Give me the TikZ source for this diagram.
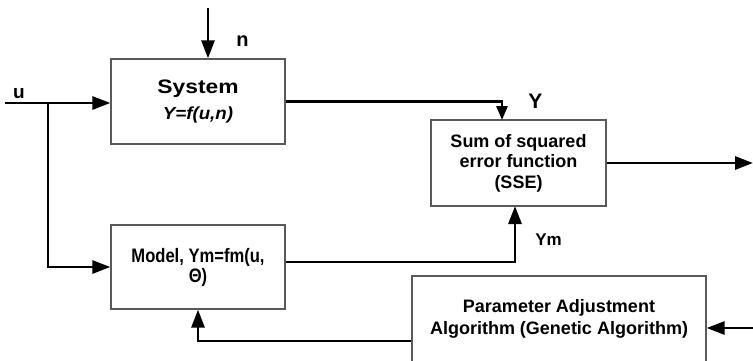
\documentclass[tikz,border=0pt]{standalone}
\usepackage{fontspec}
\setmainfont{Liberation Sans}
\usetikzlibrary{arrows.meta}
\newcommand{\hstretch}[2]{\scalebox{#1}[1]{#2}}

\begin{document}
\begin{tikzpicture}[x=1pt,y=-1pt,
  blk/.style={draw=black!65, line width=1.3pt, rectangle, inner sep=0pt, align=center, font=\bfseries},
  wire/.style={line width=2.9pt, black},
  arr/.style={wire, -{Triangle[length=18pt,width=13pt]}},
  lbl/.style={font=\bfseries, inner sep=0pt, anchor=base}]

\useasboundingbox (0,0) rectangle (753,360);
\clip (0,0) rectangle (753,360);

% blocks
\node[blk, minimum width=174pt, minimum height=85pt, font=\bfseries\fontsize{18}{26}\selectfont] (sys) at (198,101.5)
  {\hstretch{1.17}{\fontsize{19.5}{20}\selectfont System}\\
   \hstretch{1.07}{\fontsize{17.5}{20}\selectfont\itshape Y=f(u,n)}};
\node[blk, minimum width=175pt, minimum height=86pt, font=\bfseries\fontsize{18}{20.5}\selectfont] (sse) at (518.5,163)
  {Sum of squared\\error function\\(SSE)};
\node[blk, minimum width=174pt, minimum height=84pt, font=\bfseries\fontsize{19.5}{20}\selectfont] (mdl) at (198,267)
  {\hstretch{0.85}{Model, Ym=fm(u,}\\\hstretch{0.85}{Θ)}};
\node[blk, minimum width=294pt, minimum height=86pt, font=\bfseries\fontsize{18}{22}\selectfont] (prm) at (559,319)
  {Parameter Adjustment\\Algorithm (Genetic Algorithm)};

% labels
\node[lbl, font=\bfseries\fontsize{20}{24}\selectfont] (lbn) at (242.5,46.7) {n};
\node[lbl, font=\bfseries\fontsize{19}{23}\selectfont] (lbu) at (19,98) {u};
\node[lbl, font=\bfseries\fontsize{21}{25}\selectfont] (lby) at (535.3,108.3) {Y};
\node[lbl, font=\bfseries\fontsize{17}{21}\selectfont] (lbym) at (548.5,245.7) {Ym};

% signal paths
\coordinate (nin) at (208,8);
\coordinate (uin) at (5,103);
\coordinate (br) at (48,103);
\coordinate (ytip) at (502,120);
\coordinate (eout) at (753,163);
\coordinate (ymtip) at (515,206);
\coordinate (pin) at (753,328);

\draw[arr] (nin) -- (nin |- sys.north);
\draw[arr] (uin) -- (uin -| sys.west);
\draw[arr] (br) |- (mdl.west);
\draw[arr, -{Triangle[length=14pt,width=11pt]}] (sys.east) -| (ytip);
\draw[arr] (sse.east) -- (eout);
\draw[arr] ([yshift=5pt]mdl.east) -| (ymtip);
\draw[arr] (pin) -- (pin -| prm.east);
\draw[arr] ([yshift=-22pt]prm.west) -| (mdl.south);
\end{tikzpicture}
\end{document}
